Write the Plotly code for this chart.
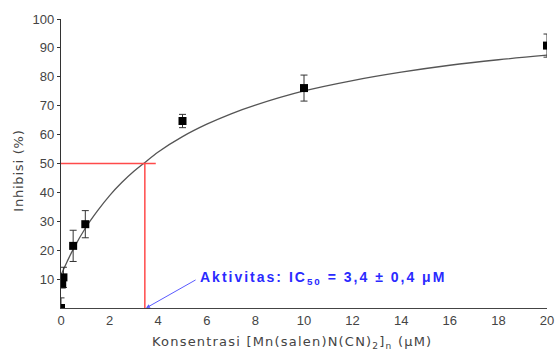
import plotly.graph_objects as go

# Measured data (concentration in µM, inhibition in %)
conc = [0, 0.05, 0.1, 0.5, 1, 5, 10, 20]
inhib = [0, 8.4, 10.6, 21.5, 29.0, 64.7, 76.1, 90.8]
err = [3.5, 1.5, 3.5, 5.4, 4.7, 2.3, 4.5, 4.0]

# Fitted curve
fit_x = [0, 0.25, 0.5, 1, 1.5, 2, 2.5, 3, 3.4, 4, 5, 6, 7, 8, 10, 12, 14, 16, 18, 20]
fit_y = [11.4, 16.0, 20.3, 27.6, 33.6, 38.9, 43.4, 47.3, 50.0, 54.0, 59.3, 63.6, 67.2, 70.2, 75.1, 78.7, 81.6, 84.0, 85.9, 87.5]

ic50 = 3.4
half = 50
x_ticks = list(range(0, 21, 2))
y_ticks = list(range(10, 101, 10))

TICKFONT = dict(family="Liberation Sans, Arial", size=13, color="#444444")

fig = go.Figure()

fig.add_trace(go.Scatter(x=fit_x, y=fit_y, mode="lines", line=dict(color="#555555", width=1.3, shape="spline"),
                         hoverinfo="skip", showlegend=False))

# IC50 guide lines
fig.add_trace(go.Scatter(x=[-0.12, 3.9], y=[half, half], mode="lines", line=dict(color="#ff4a4a", width=1.5),
                         showlegend=False, cliponaxis=False))
fig.add_trace(go.Scatter(x=[ic50 + 0.05, ic50 + 0.05], y=[half, 0], mode="lines", line=dict(color="#ff4a4a", width=1.5),
                         showlegend=False))

fig.add_trace(go.Scatter(x=conc, y=inhib, mode="markers",
                         marker=dict(symbol="square", size=8, color="black"),
                         error_y=dict(type="data", array=err, color="#333333", thickness=1, width=3.5),
                         showlegend=False))

fig.add_annotation(x=3.5, y=0, ax=5.6, ay=10, xref="x", yref="y", axref="x", ayref="y",
                   text="", showarrow=True, arrowhead=2, arrowsize=0.8, arrowwidth=1, arrowcolor="#5a5aff")
fig.add_annotation(x=6.88, y=10.3, xref="x", yref="y", xanchor="left", yanchor="middle", showarrow=False,
                   text="<b>Aktivitas: IC<sub>50</sub> = 3,4 ± 0,4 μM</b>",
                   font=dict(family="Liberation Sans, Arial", size=14, color="#2a2aff"))

fig.add_annotation(x=0.475, y=-0.118, xref="paper", yref="paper", yanchor="middle", showarrow=False,
                   text="Konsentrasi [Mn(salen)N(CN)<sub>2</sub>]<sub>n</sub> (μM)",
                   font=dict(family="DejaVu Sans", size=13, color="#444444"))
fig.add_annotation(x=-0.088, y=0.475, xref="paper", yref="paper", xanchor="center", yanchor="middle",
                   showarrow=False, textangle=-90, text="Inhibisi (%)",
                   font=dict(family="DejaVu Sans", size=13, color="#444444"))

fig.update_xaxes(range=[0, 20], tickvals=x_ticks, ticktext=[str(v) for v in x_ticks], automargin=False,
                 showgrid=False, zeroline=False, showline=True, linecolor="#444444", linewidth=1.3,
                 ticks="", tickfont=TICKFONT)
fig.update_yaxes(range=[0, 100], tickvals=y_ticks, ticktext=[str(v) for v in y_ticks], automargin=False,
                 showgrid=False, zeroline=False, showline=True, linecolor="#333333", linewidth=1.3,
                 ticks="outside", ticklen=3, tickcolor="#333333", tickfont=TICKFONT)

fig.update_layout(width=556, height=354, margin=dict(l=61, r=9, t=19, b=46),
                  plot_bgcolor="white", paper_bgcolor="white", showlegend=False)

post = """
document.body.style.margin='0';
document.body.style.overflow='hidden';
document.querySelectorAll('text.annotation-text').forEach(function(t){
  var s = t.textContent || '';
  if (s.indexOf('Aktivitas') === 0) { t.style.letterSpacing = '2px'; }
  else if (s.indexOf('Konsentrasi') === 0) { t.style.letterSpacing = '1.2px'; }
  else if (s.indexOf('Inhibisi') === 0) { t.style.letterSpacing = '0.8px'; }
});
"""

fig.write_html("out.html", config={"displayModeBar": False, "responsive": False}, post_script=post)
